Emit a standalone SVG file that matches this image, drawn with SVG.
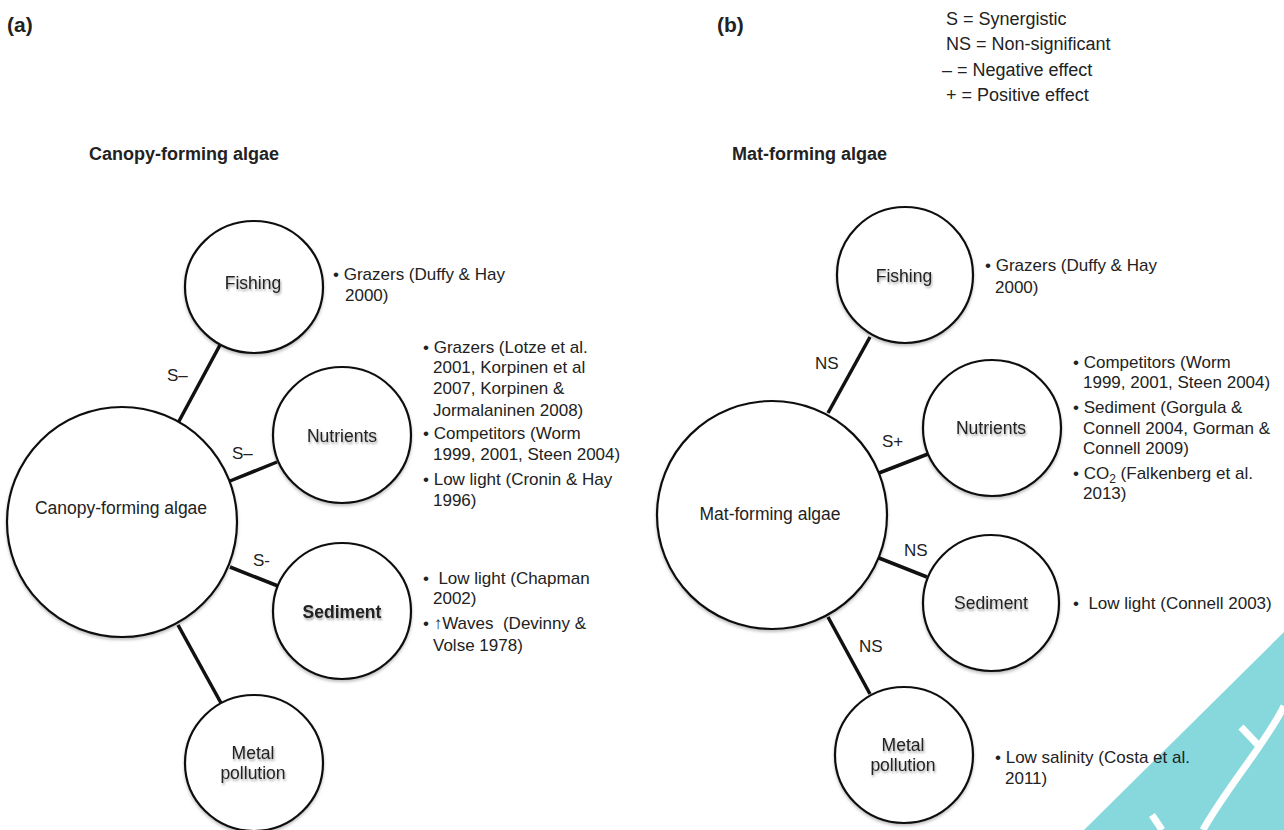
<svg xmlns="http://www.w3.org/2000/svg" width="1284" height="830" viewBox="0 0 1284 830">
<defs>
<filter id="tsh" x="-20%" y="-40%" width="140%" height="180%">
<feDropShadow dx="1" dy="2" stdDeviation="1.2" flood-color="#000" flood-opacity="0.35"/>
</filter>
<filter id="csh" x="-10%" y="-10%" width="120%" height="125%">
<feDropShadow dx="0" dy="2" stdDeviation="1.5" flood-color="#000" flood-opacity="0.25"/>
</filter>
</defs>
<style>
text{font-family:"Liberation Sans",Arial,sans-serif;fill:#222;}
.panel{font-size:21px;font-weight:bold;}
.title{font-size:18px;font-weight:bold;}
.legend{font-size:18px;}
.body{font-size:17px;}
.lbl{font-size:17.5px;text-anchor:middle;filter:url(#tsh);}
.big{font-size:17.5px;text-anchor:middle;}
.edge{font-size:17px;}
.node ellipse{fill:#fff;stroke:#111;stroke-width:2.2;filter:url(#csh);}
.conn line{stroke:#111;stroke-width:3.5;}
</style>
<rect width="1284" height="830" fill="#fff"/>

<text class="panel" x="7" y="32">(a)</text>
<text class="panel" x="717" y="32">(b)</text>
<text class="title" x="89" y="160">Canopy-forming algae</text>
<text class="title" x="732" y="160">Mat-forming algae</text>

<g id="legend" class="legend">
<text x="946" y="25">S = Synergistic</text>
<text x="946" y="50">NS = Non-significant</text>
<text x="942" y="76">– = Negative effect</text>
<text x="946" y="101">+ = Positive effect</text>
</g>

<g id="connectors" class="conn">
<line x1="220" y1="345" x2="178" y2="423"/>
<line x1="277" y1="462" x2="230" y2="481"/>
<line x1="230" y1="567" x2="278" y2="586"/>
<line x1="178" y1="625" x2="221" y2="703"/>
<line x1="870" y1="337" x2="828" y2="413"/>
<line x1="928" y1="454" x2="879" y2="473"/>
<line x1="879" y1="558" x2="927" y2="577"/>
<line x1="828" y1="617" x2="870" y2="694"/>
</g>

<g id="edge-labels" class="edge">
<text x="167" y="381">S–</text>
<text x="232" y="459">S–</text>
<text x="253" y="566">S-</text>
<text x="815" y="369">NS</text>
<text x="882" y="447">S+</text>
<text x="904" y="556">NS</text>
<text x="859" y="652">NS</text>
</g>

<!-- Panel a nodes -->
<g id="a-canopy" class="node">
<ellipse cx="122" cy="522" rx="115" ry="115"/>
<text class="big" x="121" y="514">Canopy-forming algae</text>
</g>
<g id="a-fishing" class="node">
<ellipse cx="254" cy="287" rx="69" ry="66"/>
<text class="lbl" x="253" y="289">Fishing</text>
</g>
<g id="a-nutrients" class="node">
<ellipse cx="342" cy="435" rx="69" ry="68"/>
<text class="lbl" x="342" y="442">Nutrients</text>
</g>
<g id="a-sediment" class="node">
<ellipse cx="342" cy="611" rx="69" ry="68"/>
<text class="lbl" x="342" y="618" font-weight="bold">Sediment</text>
</g>
<g id="a-metal" class="node">
<ellipse cx="254" cy="763" rx="69" ry="68"/>
<text class="lbl" x="253" y="759">Metal</text>
<text class="lbl" x="253" y="779">pollution</text>
</g>

<g id="a-notes" class="body">
<text x="333" y="280">• Grazers (Duffy &amp; Hay</text>
<text x="345" y="301">2000)</text>
<text x="423" y="353">• Grazers (Lotze et al.</text>
<text x="433" y="373">2001, Korpinen et al</text>
<text x="433" y="394">2007, Korpinen &amp;</text>
<text x="433" y="416">Jormalaninen 2008)</text>
<text x="423" y="439">• Competitors (Worm</text>
<text x="433" y="460">1999, 2001, Steen 2004)</text>
<text x="423" y="485">• Low light (Cronin &amp; Hay</text>
<text x="433" y="506">1996)</text>
<text x="423" y="584" xml:space="preserve">•  Low light (Chapman</text>
<text x="433" y="604">2002)</text>
<text x="423" y="629" xml:space="preserve">• ↑Waves  (Devinny &amp;</text>
<text x="433" y="651">Volse 1978)</text>
</g>

<!-- Panel b nodes -->
<g id="b-mat" class="node">
<ellipse cx="772" cy="515" rx="115" ry="114"/>
<text class="big" x="770" y="520">Mat-forming algae</text>
</g>
<g id="b-fishing" class="node">
<ellipse cx="905" cy="275" rx="68" ry="68"/>
<text class="lbl" x="904" y="282">Fishing</text>
</g>
<g id="b-nutrients" class="node">
<ellipse cx="992" cy="428" rx="69" ry="68"/>
<text class="lbl" x="991" y="434">Nutrients</text>
</g>
<g id="b-sediment" class="node">
<ellipse cx="991" cy="603" rx="68" ry="68"/>
<text class="lbl" x="991" y="609">Sediment</text>
</g>
<g id="b-metal" class="node">
<ellipse cx="904" cy="755" rx="69" ry="68"/>
<text class="lbl" x="903" y="751">Metal</text>
<text class="lbl" x="903" y="771">pollution</text>
</g>

<g id="b-notes" class="body">
<text x="985" y="271">• Grazers (Duffy &amp; Hay</text>
<text x="995" y="293">2000)</text>
<text x="1073" y="368">• Competitors (Worm</text>
<text x="1083" y="388">1999, 2001, Steen 2004)</text>
<text x="1073" y="413">• Sediment (Gorgula &amp;</text>
<text x="1083" y="434">Connell 2004, Gorman &amp;</text>
<text x="1083" y="454">Connell 2009)</text>
<text x="1073" y="479">• CO<tspan font-size="12" dy="4">2</tspan><tspan dy="-4"> (Falkenberg et al.</tspan></text>
<text x="1083" y="499">2013)</text>
<text x="1073" y="609" xml:space="preserve">•  Low light (Connell 2003)</text>
</g>

<g id="watermark">
<polygon points="1284,632 1284,830 1084,830" fill="#86d8dc"/>
<path d="M1241,727 L1258,745" stroke="#fff" stroke-width="7" fill="none"/>
<path d="M1284,706 C1268,740 1225,790 1203,830" stroke="#fff" stroke-width="7" fill="none"/>
<path d="M1152,815 L1162,830" stroke="#fff" stroke-width="7" fill="none"/>
</g>

<g id="b-notes-2" class="body">
<text x="995" y="763">• Low salinity (Costa et al.</text>
<text x="1005" y="784">2011)</text>
</g>
</svg>
